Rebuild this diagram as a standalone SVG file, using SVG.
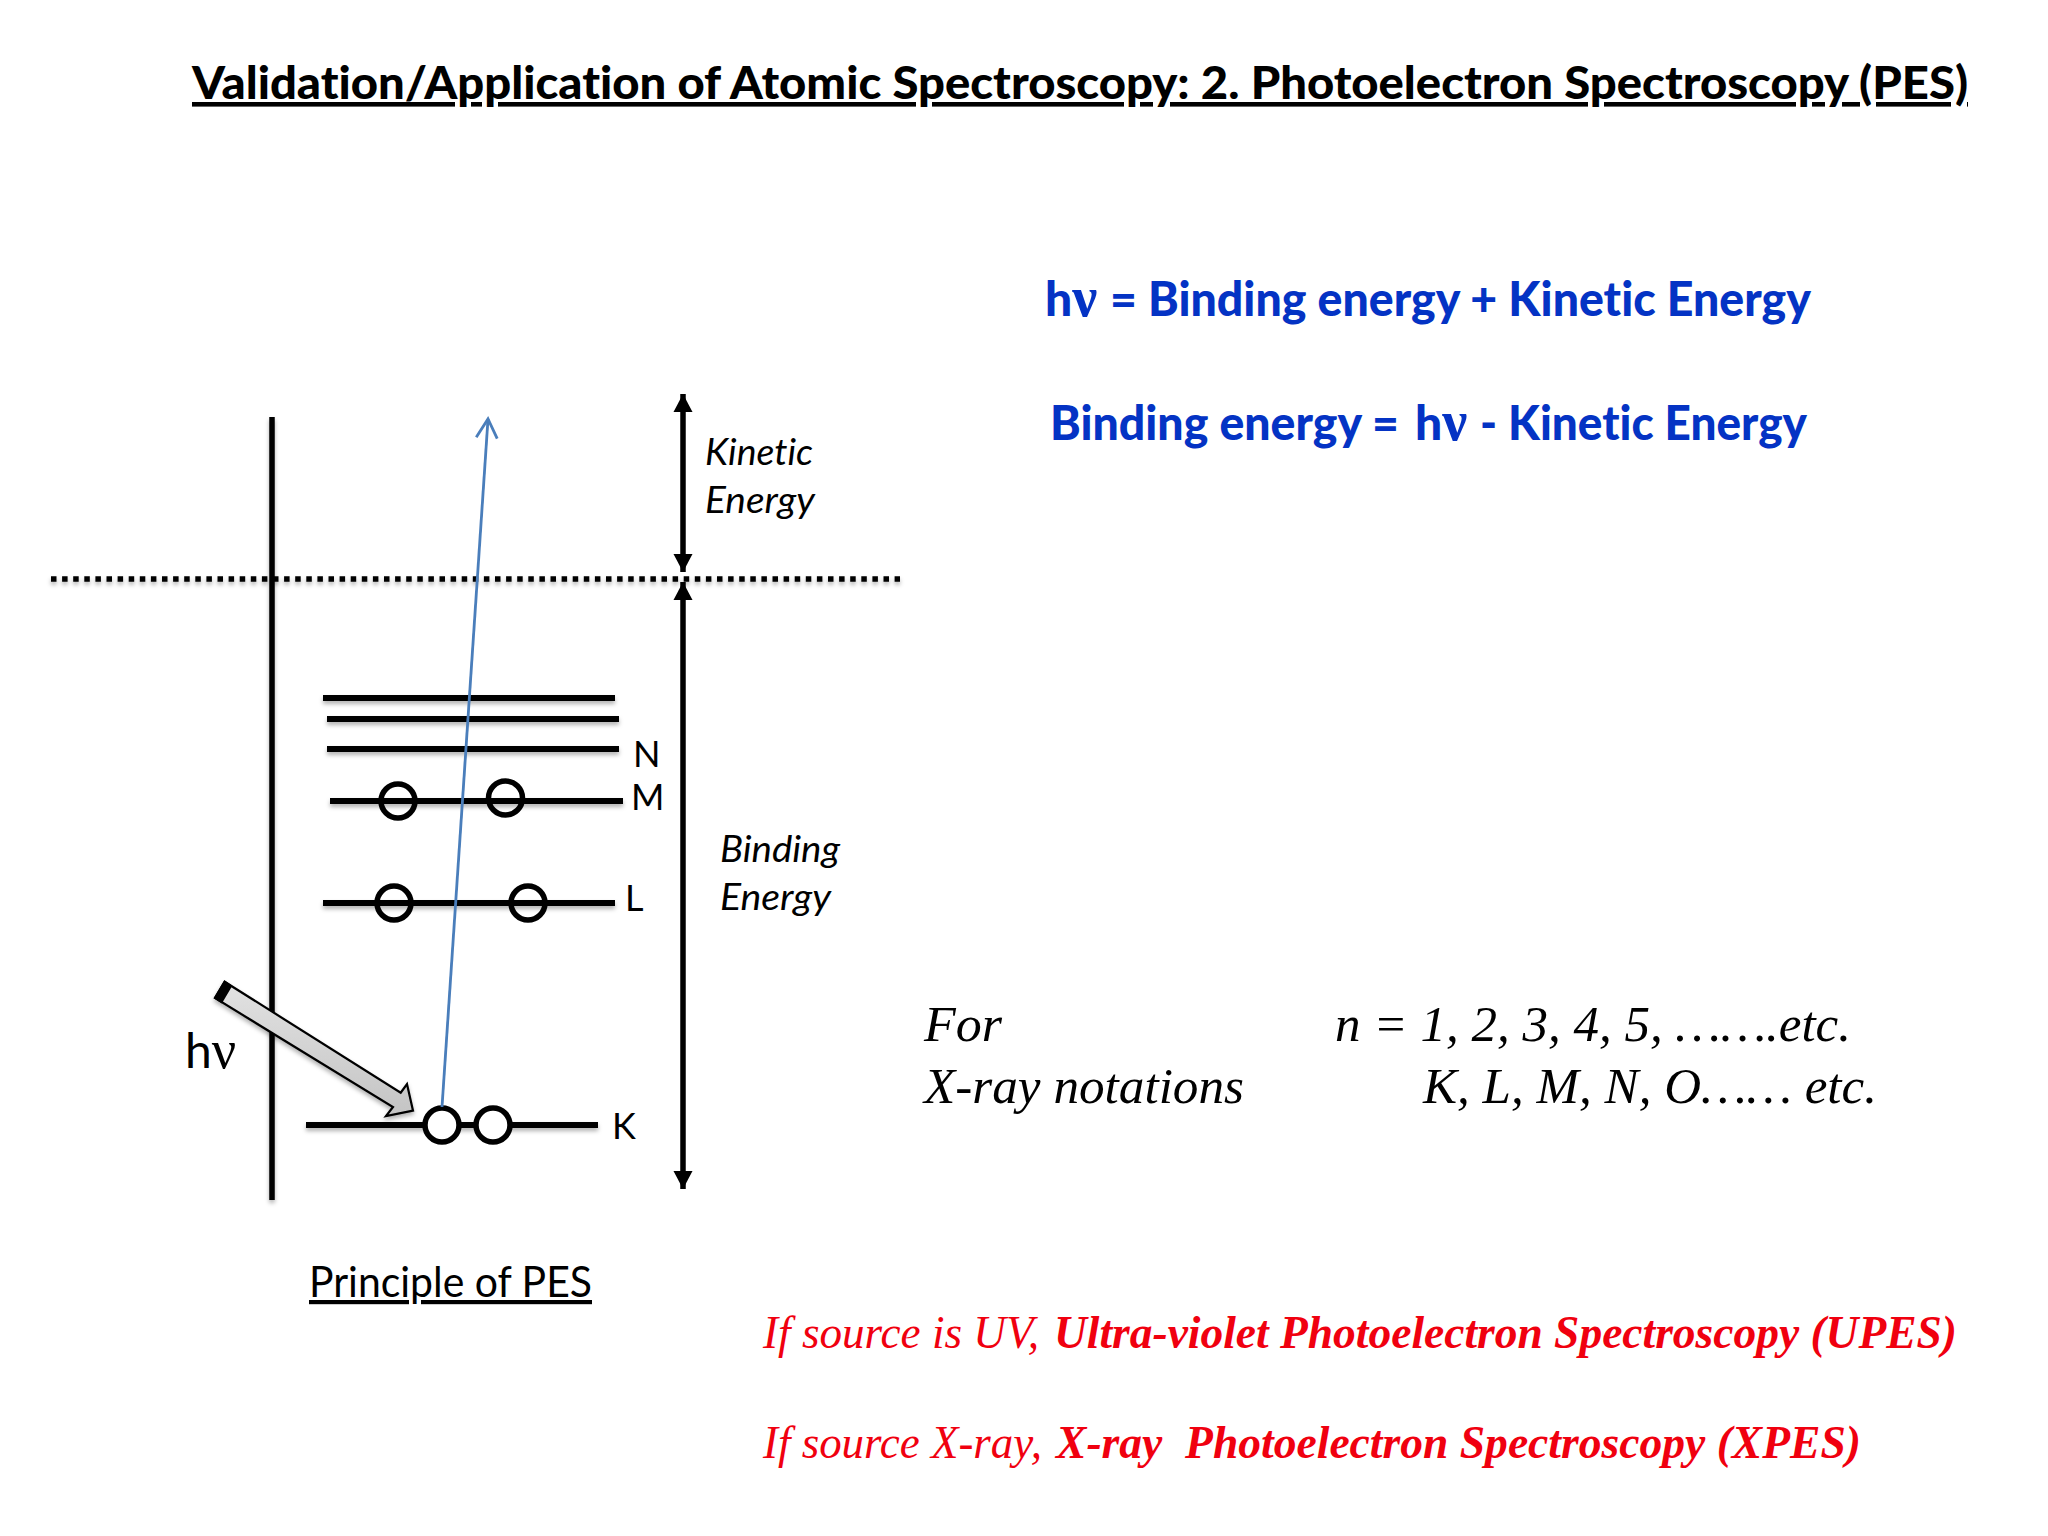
<svg xmlns="http://www.w3.org/2000/svg" width="2048" height="1536" viewBox="0 0 2048 1536">
<defs>
<style>
text{font-variant-ligatures:none;text-decoration-skip-ink:none}
.cal{font-family:"Lato","Open Sans",sans-serif;fill:#000}
.tim{font-family:"Liberation Serif","Times New Roman",serif;font-style:italic;fill:#000;font-size:51px}
.red{font-family:"Liberation Serif","Times New Roman",serif;font-style:italic;fill:#f0000f;font-size:46px}
.blue{font-family:"Lato","Open Sans",sans-serif;font-weight:900;fill:#0433c4;font-size:48px}
.sym{font-family:"Liberation Serif",serif}
.lvl{stroke:#000;stroke-width:6;fill:none}
.orb{stroke:#000;stroke-width:5.500;fill:none}
.ax{stroke:#000;stroke-width:5.500;fill:none}
</style>
<filter id="sh" filterUnits="userSpaceOnUse" x="0" y="0" width="2048" height="1536"><feDropShadow dx="0" dy="3" stdDeviation="2" flood-color="#000" flood-opacity="0.3"/></filter>
<linearGradient id="gr" x1="0" y1="0" x2="0" y2="1"><stop offset="0" stop-color="#e2e2e2"/><stop offset="1" stop-color="#c4c4c4"/></linearGradient>
<marker id="ah" markerUnits="userSpaceOnUse" markerWidth="20" markerHeight="20" refX="18" refY="10" orient="auto-start-reverse"><path d="M0 0.500L18 10L0 19.500Z" fill="#000"/></marker>
<marker id="open" markerUnits="userSpaceOnUse" markerWidth="26" markerHeight="26" refX="20" refY="12" orient="auto"><path d="M1 1.500L20 12L1 22.500" fill="none" stroke="#4a7ebb" stroke-width="2.800"/></marker>
</defs>
<rect width="2048" height="1536" fill="#fff"/>
<text id="title" class="cal" x="192" y="99" font-size="46" font-weight="900" text-decoration="underline" textLength="1776" lengthAdjust="spacingAndGlyphs" style="text-decoration-thickness:4px">Validation/Application of Atomic Spectroscopy: 2. Photoelectron Spectroscopy (PES)</text>
<g id="eq1"><text class="blue" x="1045" y="316">h<tspan class="sym" font-size="56">ν</tspan></text><text class="blue" x="1110" y="316" textLength="701" lengthAdjust="spacingAndGlyphs">= Binding energy + Kinetic Energy</text></g>
<g id="eq2"><text class="blue" x="1050" y="440" textLength="349" lengthAdjust="spacingAndGlyphs">Binding energy =</text><text class="blue" x="1415" y="440">h<tspan class="sym" font-size="56">ν</tspan></text><text class="blue" x="1480" y="440" textLength="327" lengthAdjust="spacingAndGlyphs">- Kinetic Energy</text></g>
<g id="connectors">
<line class="ax" x1="272" y1="417" x2="272" y2="1200" filter="url(#sh)"/>
<line x1="51" y1="579" x2="900" y2="579" stroke="#000" stroke-width="5.500" stroke-dasharray="5.500 5.600" filter="url(#sh)"/>
<line class="ax" x1="683" y1="394" x2="683" y2="572" marker-start="url(#ah)" marker-end="url(#ah)"/>
<line class="ax" x1="683" y1="582" x2="683" y2="1189" marker-start="url(#ah)" marker-end="url(#ah)"/>
</g>
<g id="level-n3"><line class="lvl" x1="323" y1="698" x2="615" y2="698" filter="url(#sh)"/></g>
<g id="level-n2"><line class="lvl" x1="327" y1="719" x2="619" y2="719" filter="url(#sh)"/></g>
<g id="level-n"><line class="lvl" x1="327" y1="749" x2="619" y2="749" filter="url(#sh)"/><text class="cal" x="633" y="767" font-size="36">N</text></g>
<g id="level-m"><line class="lvl" x1="330" y1="801" x2="623" y2="801" filter="url(#sh)"/><circle class="orb" cx="398" cy="801" r="17"/><circle class="orb" cx="505.500" cy="798" r="17"/><text class="cal" x="631" y="810" font-size="36">M</text></g>
<g id="level-l"><line class="lvl" x1="323" y1="903" x2="615" y2="903" filter="url(#sh)"/><circle class="orb" cx="394" cy="903" r="17"/><circle class="orb" cx="528" cy="903" r="17"/><text class="cal" x="625" y="911" font-size="36">L</text></g>
<g id="level-k"><line class="lvl" x1="306" y1="1125" x2="598" y2="1125" filter="url(#sh)"/><circle class="orb" cx="442" cy="1125" r="17" style="fill:#fff"/><circle class="orb" cx="493" cy="1125" r="17" style="fill:#fff"/><text class="cal" x="612" y="1139" font-size="36">K</text></g>
<g id="electron-path"><line x1="442" y1="1107" x2="488" y2="419" stroke="#4a7ebb" stroke-width="2.800" marker-end="url(#open)"/></g>
<g id="photon-arrow" filter="url(#sh)"><path d="M224.600 981.700L400.700 1092.700L407 1084L413 1110.700L386 1116L393 1107L215 998Z" fill="url(#gr)" stroke="#000" stroke-width="2.200" stroke-linejoin="miter"/><path d="M224.600 981.700L231 986L221.500 1002L215 998Z" fill="#000" stroke="#000" stroke-width="2"/></g>
<text id="hv" class="cal" x="185" y="1068" font-size="48">h<tspan class="sym" font-size="54">ν</tspan></text>
<g id="kinetic-label" class="cal" font-size="36" font-style="italic"><text x="705" y="465" textLength="108" lengthAdjust="spacingAndGlyphs">Kinetic</text><text x="705" y="513" textLength="110" lengthAdjust="spacingAndGlyphs">Energy</text></g>
<g id="binding-label" class="cal" font-size="36" font-style="italic"><text x="720" y="862" textLength="120" lengthAdjust="spacingAndGlyphs">Binding</text><text x="720" y="910" textLength="111" lengthAdjust="spacingAndGlyphs">Energy</text></g>
<text id="caption" class="cal" x="309" y="1297" font-size="42" text-decoration="underline" textLength="283" lengthAdjust="spacingAndGlyphs">Principle of PES</text>
<g id="notation">
<text class="tim" x="924" y="1041" textLength="78" lengthAdjust="spacingAndGlyphs">For</text>
<text class="tim" x="1335" y="1041" textLength="516" lengthAdjust="spacingAndGlyphs">n = 1, 2, 3, 4, 5, …….etc.</text>
<text class="tim" x="924" y="1103" textLength="320" lengthAdjust="spacingAndGlyphs">X-ray notations</text>
<text class="tim" x="1423" y="1103" textLength="454" lengthAdjust="spacingAndGlyphs">K, L, M, N, O…… etc.</text>
</g>
<g id="sources">
<text class="red" x="763" y="1348" textLength="276" lengthAdjust="spacingAndGlyphs">If source is UV,</text>
<text class="red" x="1054" y="1348" font-weight="700" textLength="903" lengthAdjust="spacingAndGlyphs">Ultra-violet Photoelectron Spectroscopy (UPES)</text>
<text class="red" x="763" y="1458" textLength="279" lengthAdjust="spacingAndGlyphs">If source X-ray,</text>
<text class="red" x="1056" y="1458" font-weight="700" xml:space="preserve" textLength="805" lengthAdjust="spacingAndGlyphs">X-ray  Photoelectron Spectroscopy (XPES)</text>
</g>
</svg>
